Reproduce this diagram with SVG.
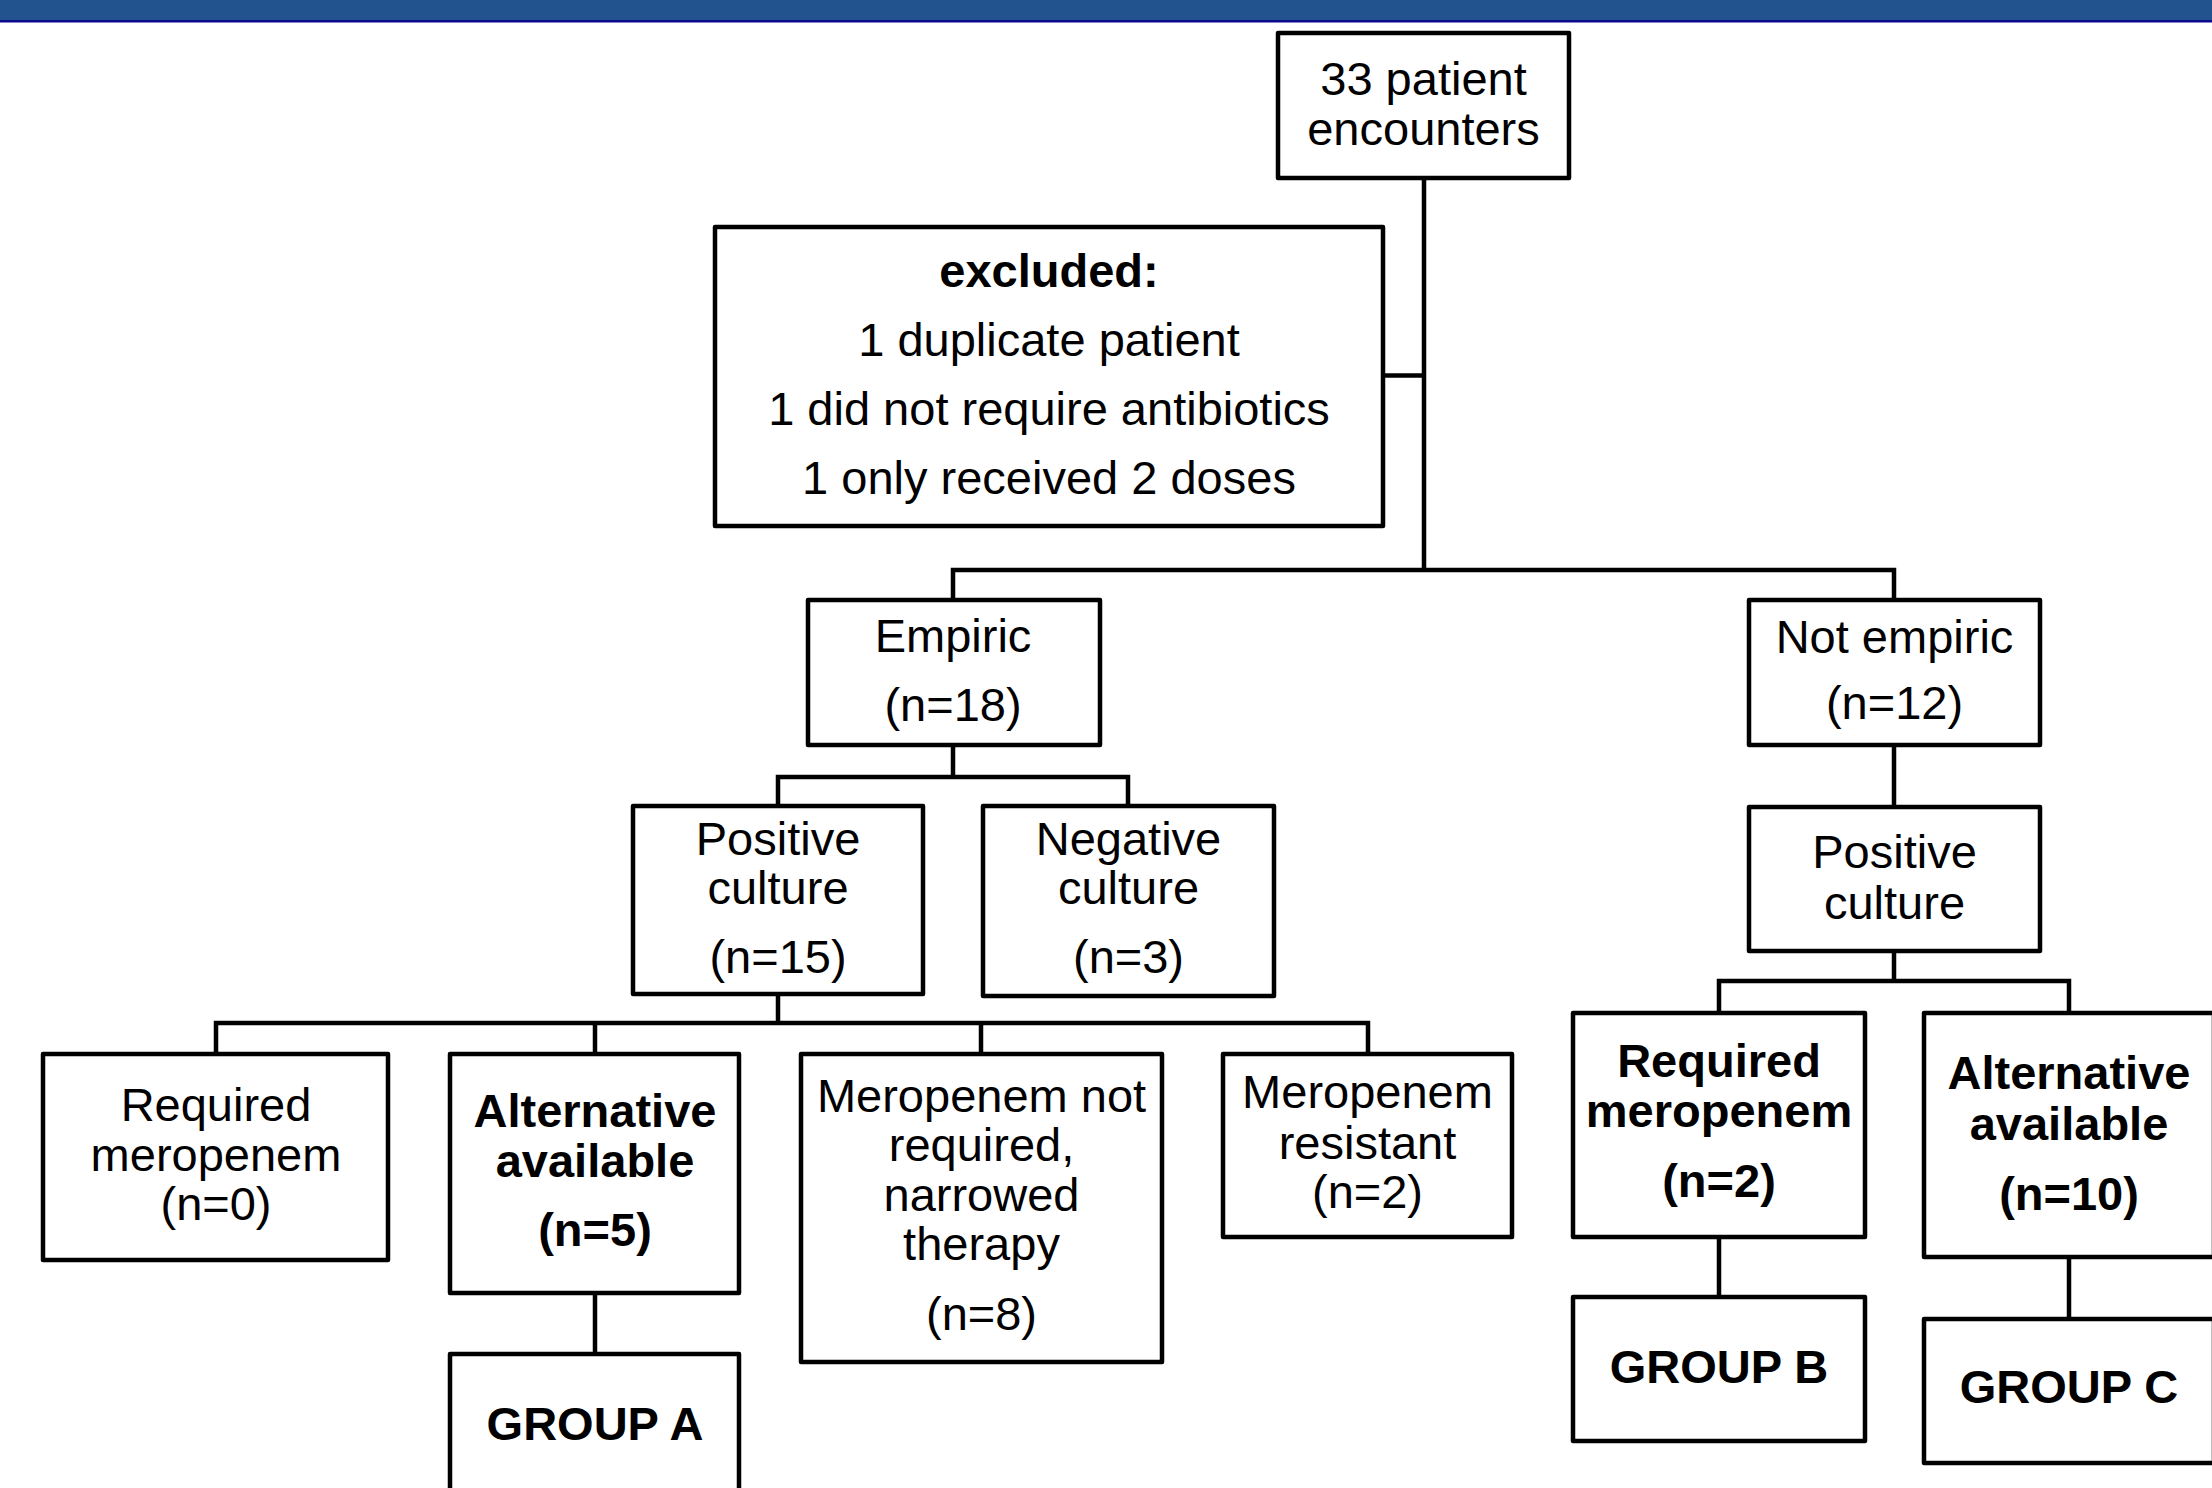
<svg xmlns="http://www.w3.org/2000/svg" width="2212" height="1488" viewBox="0 0 2212 1488">
<style>
.box{fill:#ffffff;stroke:#000000;stroke-width:4.5;stroke-linejoin:round}
.c{fill:none;stroke:#000000;stroke-width:4.5}
text{font-family:"Liberation Sans",Arial,sans-serif;font-size:47px;fill:#000000;text-anchor:middle}
.b{font-weight:bold}
</style>
<rect x="0" y="0" width="2212" height="21" fill="#22538F"/>
<rect x="0" y="20" width="2212" height="2.5" fill="#0A0A8C"/>
<g id="connectors">
<path class="c" d="M1424,178 V570"/>
<path class="c" d="M1383,375.5 H1424"/>
<path class="c" d="M953,600 V570 H1894 V600"/>
<path class="c" d="M953,745 V777"/>
<path class="c" d="M778,806 V777 H1128 V806"/>
<path class="c" d="M778,994 V1023"/>
<path class="c" d="M216,1054 V1023 H1368 V1054"/>
<path class="c" d="M595,1023 V1054"/>
<path class="c" d="M981,1023 V1054"/>
<path class="c" d="M595,1293 V1354"/>
<path class="c" d="M1894,745 V807"/>
<path class="c" d="M1894,951 V981"/>
<path class="c" d="M1719,1013 V981 H2069 V1013"/>
<path class="c" d="M1719,1237 V1297"/>
<path class="c" d="M2069,1257 V1319"/>
</g>
<g id="n-total">
<rect class="box" x="1278" y="33" width="291" height="145"/>
<text x="1423.5" y="95">33 patient</text>
<text x="1423.5" y="145">encounters</text>
</g>
<g id="n-excluded">
<rect class="box" x="715" y="227" width="668" height="299"/>
<text class="b" x="1049" y="287">excluded:</text>
<text x="1049" y="356">1 duplicate patient</text>
<text x="1049" y="425">1 did not require antibiotics</text>
<text x="1049" y="494">1 only received 2 doses</text>
</g>
<g id="n-empiric">
<rect class="box" x="808" y="600" width="292" height="145"/>
<text x="953" y="652">Empiric</text>
<text x="953" y="721">(n=18)</text>
</g>
<g id="n-notempiric">
<rect class="box" x="1749" y="600" width="291" height="145"/>
<text x="1894.5" y="653">Not empiric</text>
<text x="1894.5" y="719">(n=12)</text>
</g>
<g id="n-poscult-l">
<rect class="box" x="633" y="806" width="290" height="188"/>
<text x="778" y="855">Positive</text>
<text x="778" y="904">culture</text>
<text x="778" y="973">(n=15)</text>
</g>
<g id="n-negcult">
<rect class="box" x="983" y="806" width="291" height="190"/>
<text x="1128.5" y="855">Negative</text>
<text x="1128.5" y="904">culture</text>
<text x="1128.5" y="973">(n=3)</text>
</g>
<g id="n-poscult-r">
<rect class="box" x="1749" y="807" width="291" height="144"/>
<text x="1894.5" y="868">Positive</text>
<text x="1894.5" y="919">culture</text>
</g>
<g id="n-reqmero-l">
<rect class="box" x="43" y="1054" width="345" height="206"/>
<text x="216" y="1121">Required</text>
<text x="216" y="1171">meropenem</text>
<text x="216" y="1220">(n=0)</text>
</g>
<g id="n-alt-l">
<rect class="box" x="450" y="1054" width="289" height="239"/>
<text class="b" x="595" y="1127">Alternative</text>
<text class="b" x="595" y="1177">available</text>
<text class="b" x="595" y="1246">(n=5)</text>
</g>
<g id="n-groupa">
<rect class="box" x="450" y="1354" width="289" height="150"/>
<text class="b" x="595" y="1440">GROUP A</text>
</g>
<g id="n-notreq">
<rect class="box" x="801" y="1054" width="361" height="308"/>
<text x="981.5" y="1112">Meropenem not</text>
<text x="981.5" y="1161">required,</text>
<text x="981.5" y="1211">narrowed</text>
<text x="981.5" y="1260">therapy</text>
<text x="981.5" y="1330">(n=8)</text>
</g>
<g id="n-resistant">
<rect class="box" x="1223" y="1054" width="289" height="183"/>
<text x="1367.5" y="1108">Meropenem</text>
<text x="1367.5" y="1159">resistant</text>
<text x="1367.5" y="1208">(n=2)</text>
</g>
<g id="n-reqmero-r">
<rect class="box" x="1573" y="1013" width="292" height="224"/>
<text class="b" x="1719" y="1077">Required</text>
<text class="b" x="1719" y="1127">meropenem</text>
<text class="b" x="1719" y="1197">(n=2)</text>
</g>
<g id="n-groupb">
<rect class="box" x="1573" y="1297" width="292" height="144"/>
<text class="b" x="1719" y="1383">GROUP B</text>
</g>
<g id="n-alt-r">
<rect class="box" x="1924" y="1013" width="290" height="244"/>
<text class="b" x="2069" y="1089">Alternative</text>
<text class="b" x="2069" y="1140">available</text>
<text class="b" x="2069" y="1210">(n=10)</text>
</g>
<g id="n-groupc">
<rect class="box" x="1924" y="1319" width="290" height="144"/>
<text class="b" x="2069" y="1403">GROUP C</text>
</g>
</svg>
